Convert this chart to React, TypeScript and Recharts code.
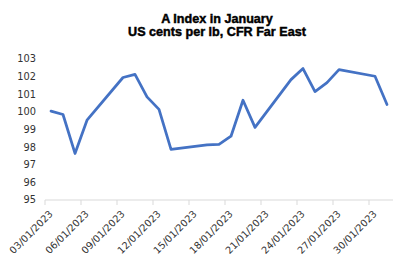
import React from "react";
import { LineChart, Line, XAxis, YAxis } from "recharts";

const titleLines = ["A Index in January", "US cents per lb, CFR Far East"];
const days = [3, 4, 5, 6, 9, 10, 11, 12, 13, 16, 17, 18, 19, 20, 23, 24, 25, 26, 27, 30, 31];
const values = [100.04, 99.85, 97.64, 99.53, 101.95, 102.13, 100.85, 100.14, 97.87, 98.13, 98.15, 98.62, 100.66, 99.12, 101.83, 102.46, 101.15, 101.66, 102.4, 102.02, 100.42];
const tickDays = [3, 6, 9, 12, 15, 18, 21, 24, 27, 30];
const tickLabels = ["03/01/2023", "06/01/2023", "09/01/2023", "12/01/2023", "15/01/2023", "18/01/2023", "21/01/2023", "24/01/2023", "27/01/2023", "30/01/2023"];
const yTicks = [95, 96, 97, 98, 99, 100, 101, 102, 103];

// each day spans [d, d+1]; the value is plotted at mid-day
const data = days.map((d, i) => ({ t: d + 0.5, value: values[i] }));

const FONT = "'DejaVu Sans', Verdana, sans-serif";
const TITLE_FONT = "'Liberation Sans', Arial, sans-serif";

const XTick = (props: any) => {
  const { x, y, payload } = props;
  const idx = tickDays.indexOf(payload.value);
  const label = idx >= 0 ? tickLabels[idx] : "";
  return (
    <g transform={`translate(${x + 8.5},${y + 7.5})`}>
      <text
        x={0}
        y={0}
        textAnchor="end"
        transform="rotate(-45)"
        fontFamily={FONT}
        fontSize={9.8}
        fill="#333"
      >
        {label}
      </text>
    </g>
  );
};

export default function App() {
  return (
    <div style={{ position: "absolute", left: 0, top: 0, width: 401, height: 261, background: "#fff" }}>
      <svg width={401} height={45} style={{ position: "absolute", left: 0, top: 0 }}>
        <text x={217} y={22.8} textAnchor="middle" fontFamily={TITLE_FONT} fontWeight="bold" fontSize={12.6} fill="#000" stroke="#000" strokeWidth={0.45}>
          {titleLines[0]}
        </text>
        <text x={217} y={36} textAnchor="middle" fontFamily={TITLE_FONT} fontWeight="bold" fontSize={12.6} fill="#000" stroke="#000" strokeWidth={0.45}>
          {titleLines[1]}
        </text>
      </svg>
      <div style={{ position: "absolute", left: 0, top: 0 }}>
        <LineChart width={401} height={261} data={data} margin={{ top: 59, right: 8, left: 0, bottom: 0 }}>
          <XAxis
            dataKey="t"
            type="number"
            domain={[3, 32]}
            ticks={tickDays}
            interval={0}
            height={61}
            axisLine={{ stroke: "#d9d9d9", strokeWidth: 1 }}
            tickLine={{ stroke: "#d9d9d9", strokeWidth: 1 }}
            tickSize={5}
            tickMargin={2}
            tick={<XTick />}
          />
          <YAxis
            type="number"
            domain={[95, 103]}
            ticks={yTicks}
            interval={0}
            width={45}
            axisLine={false}
            tickLine={false}
            tickMargin={3}
            tick={{ fontFamily: FONT, fontSize: 9.8, fill: "#333" }}
          />
          <Line
            type="linear"
            dataKey="value"
            stroke="#4472C4"
            strokeWidth={2.75}
            strokeLinejoin="round"
            strokeLinecap="round"
            dot={false}
            activeDot={false}
            isAnimationActive={false}
          />
        </LineChart>
      </div>
    </div>
  );
}
